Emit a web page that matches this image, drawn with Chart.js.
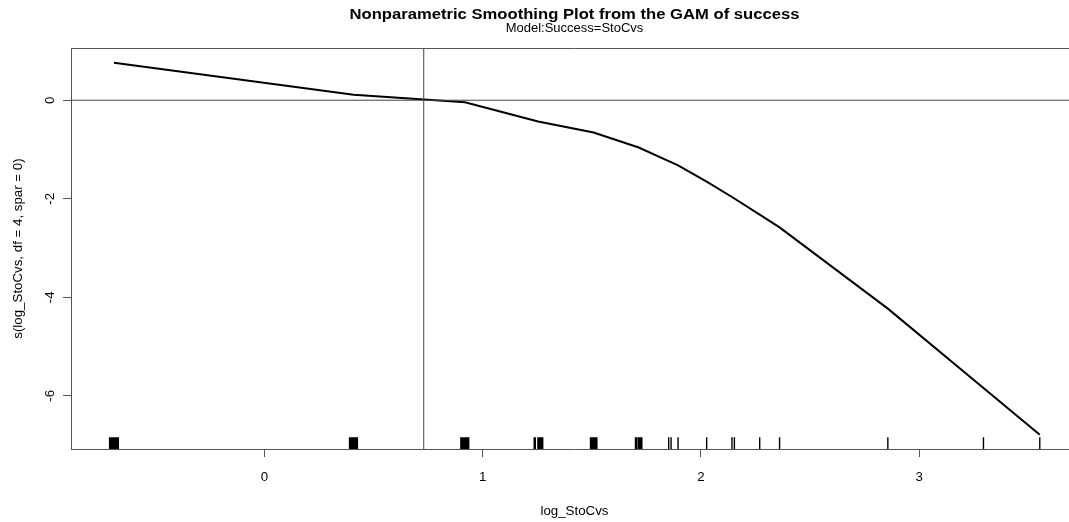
<!DOCTYPE html>
<html lang="en">
  <head>
    <meta charset="UTF-8" />
    <title>Nonparametric Smoothing Plot</title>
    <style>
      body {
        background-color: #ffffff;
        margin: 0;
        overflow: hidden;
      }
      #wrap {
        width: 1080px;
        height: 522px;
      }
    </style>
    <script src="https://cdn.jsdelivr.net/npm/chart.js"></script>
  </head>
  <body>
    <div id="wrap">
      <canvas id="gam-chart"></canvas>
    </div>
    <script>
      // data
      const xLimits = [-0.8815, 3.7225];
      const yLimits = [-7.08, 1.06];
      const xTicks = [0, 1, 2, 3];
      const yTicks = [-6, -4, -2, 0];

      // fitted smooth s(log_StoCvs) at the observed x values
      const fitX = [-0.689, 0.409, 0.919, 1.254, 1.508, 1.715, 1.852, 1.863, 1.895, 2.026, 2.142, 2.153, 2.269, 2.36, 2.856, 3.294, 3.552];
      const fitY = [0.76, 0.11, -0.04, -0.43, -0.655, -0.96, -1.235, -1.257, -1.32, -1.65, -1.964, -1.995, -2.32, -2.58, -4.23, -5.84, -6.79];

      // rug (jittered x values)
      const rugX = [
        -0.709, -0.703, -0.697, -0.691, -0.685, -0.679, -0.673, -0.669,
        0.39, 0.396, 0.402, 0.408, 0.414, 0.42, 0.426,
        0.9, 0.906, 0.912, 0.918, 0.924, 0.93, 0.936,
        1.236, 1.241, 1.253, 1.259, 1.265, 1.271, 1.275,
        1.494, 1.5, 1.506, 1.512, 1.518, 1.523,
        1.7, 1.705, 1.713, 1.719, 1.725, 1.729,
        1.852, 1.863, 1.895, 2.026, 2.142, 2.153, 2.269, 2.36, 2.856, 3.294, 3.552
      ];
      const rugTop = -6.84;

      // reference lines
      const refX = 0.73;
      const refY = 0;

      const mainTitle = "Nonparametric Smoothing Plot from the GAM of success";
      const subTitle = "Model:Success=StoCvs";

      const font = "'Liberation Sans', Arial, sans-serif";
      const axisGray = "#555555";

      const curve = fitX.map((x, i) => ({ x: x, y: fitY[i] }));
      const rug = [];
      rugX.forEach((x) => {
        rug.push({ x: x, y: yLimits[0] });
        rug.push({ x: x, y: rugTop });
        rug.push({ x: x, y: null });
      });

      // box top edge, titles and rotated y tick labels like base R
      const rStyle = {
        id: "rStyle",
        afterDraw(chart) {
          const ctx = chart.ctx;
          const area = chart.chartArea;
          const y = chart.scales.y;
          const cx = (area.left + area.right) / 2;
          ctx.save();
          ctx.strokeStyle = axisGray;
          ctx.lineWidth = 1;
          ctx.beginPath();
          ctx.moveTo(area.left, Math.round(area.top) + 0.5);
          ctx.lineTo(area.right, Math.round(area.top) + 0.5);
          ctx.stroke();

          ctx.fillStyle = "#000";
          ctx.textAlign = "center";
          ctx.textBaseline = "alphabetic";
          // main title, a bit wider than the font like the original device
          ctx.font = "bold 14.5px " + font;
          const sx = 450 / ctx.measureText(mainTitle).width;
          ctx.save();
          ctx.translate(cx, 18.5);
          ctx.scale(sx, 1);
          ctx.fillText(mainTitle, 0, 0);
          ctx.restore();
          ctx.font = "13px " + font;
          ctx.fillText(subTitle, cx, 31.5);

          ctx.font = "13.3px " + font;
          ctx.textBaseline = "middle";
          yTicks.forEach((v) => {
            ctx.save();
            ctx.translate(50, y.getPixelForValue(v));
            ctx.rotate(-Math.PI / 2);
            ctx.fillText(String(v), 0, 0);
            ctx.restore();
          });
          ctx.restore();
        },
      };

      const ctx = document.getElementById("gam-chart").getContext("2d");
      const chart = new Chart(ctx, {
        type: "scatter",
        data: {
          datasets: [
            {
              label: "h0",
              data: [{ x: xLimits[0], y: refY }, { x: xLimits[1], y: refY }],
              showLine: true,
              borderColor: "#444444",
              borderWidth: 1,
              pointRadius: 0,
            },
            {
              label: "v0",
              data: [{ x: refX, y: yLimits[0] }, { x: refX, y: yLimits[1] }],
              showLine: true,
              borderColor: "#444444",
              borderWidth: 1,
              pointRadius: 0,
            },
            {
              label: "rug",
              data: rug,
              showLine: true,
              spanGaps: false,
              borderColor: "#000000",
              borderWidth: 1.4,
              pointRadius: 0,
            },
            {
              label: "s(log_StoCvs)",
              data: curve,
              showLine: true,
              borderColor: "#000000",
              borderWidth: 2,
              pointRadius: 0,
              tension: 0,
            },
          ],
        },
        options: {
          responsive: true,
          maintainAspectRatio: false,
          devicePixelRatio: 1,
          animation: false,
          layout: { padding: { left: 0, right: 3, top: 48, bottom: 0 } },
          plugins: {
            legend: { display: false },
            tooltip: { enabled: false },
            title: { display: false },
          },
          scales: {
            x: {
              type: "linear",
              min: xLimits[0],
              max: xLimits[1],
              afterBuildTicks: (s) => {
                s.ticks = xTicks.map((v) => ({ value: v }));
              },
              grid: { drawOnChartArea: false, tickLength: 8, color: axisGray },
              border: { display: true, color: axisGray },
              ticks: { color: "#000", font: { family: font, size: 13.3 }, padding: 12, maxRotation: 0 },
              title: {
                display: true,
                text: "log_StoCvs",
                color: "#000",
                font: { family: font, size: 13.3 },
                padding: { top: 6, bottom: 3 },
              },
            },
            y: {
              type: "linear",
              min: yLimits[0],
              max: yLimits[1],
              afterBuildTicks: (s) => {
                s.ticks = yTicks.map((v) => ({ value: v }));
              },
              grid: { drawOnChartArea: false, tickLength: 9, color: axisGray },
              border: { display: true, color: axisGray },
              ticks: { display: false },
              title: {
                display: true,
                text: "s(log_StoCvs, df = 4, spar = 0)",
                color: "#000",
                font: { family: font, size: 13.3 },
                padding: { top: 10, bottom: 37 },
              },
            },
          },
        },
        plugins: [rStyle],
      });
    </script>
  </body>
</html>
